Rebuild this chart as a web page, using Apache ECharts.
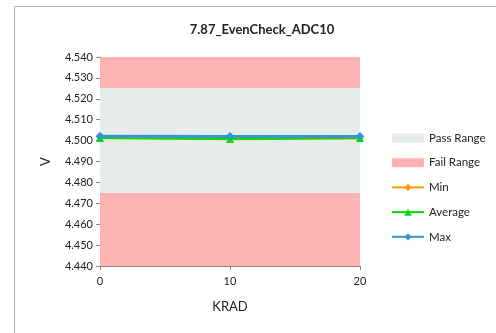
<!DOCTYPE html>
<html><head><meta charset="utf-8">
<script src="https://cdn.jsdelivr.net/npm/echarts@6/dist/echarts.min.js"></script>
<style>html,body{margin:0;padding:0;background:#fff;}#c{width:496px;height:333px;}</style>
</head><body><div id="c"></div>
<script>
const krad = [0, 10, 20];
const minVals = [4.5012, 4.5006, 4.5010];
const avgVals = [4.5013, 4.5008, 4.5012];
const maxVals = [4.5021, 4.5020, 4.5020];
const passLow = 4.475, passHigh = 4.525;
const yMin = 4.44, yMax = 4.54;
const font = 'Lato, "Liberation Sans", sans-serif';
const pts = v => krad.map((k, i) => [k, v[i]]);
const chart = echarts.init(document.getElementById('c'));
chart.setOption({
  animation: false,
  graphic: [{type: 'rect', shape: {x: 14.5, y: 6.5, width: 500, height: 340}, style: {fill: 'none', stroke: '#b4b4b4', lineWidth: 1}, silent: true}],
  title: {text: '7.87_EvenCheck_ADC10', left: 257, top: 18, textAlign: 'center',
    textStyle: {fontFamily: font, fontSize: 13, fontWeight: 'bold', color: '#222'}},
  grid: {left: 100, right: 136, top: 57, bottom: 67},
  legend: {orient: 'vertical', left: 386, top: 127, itemWidth: 32, itemHeight: 9, itemGap: 12.7,
    textStyle: {fontFamily: font, fontSize: 11.5, color: '#222'},
    data: [{name: 'Pass Range', icon: 'rect'}, {name: 'Fail Range', icon: 'rect'}, 'Min', 'Average', 'Max']},
  xAxis: {type: 'value', min: 0, max: 20, interval: 10, name: 'KRAD', nameLocation: 'middle', nameGap: 34,
    nameTextStyle: {fontFamily: font, fontSize: 13, color: '#222'},
    axisLine: {lineStyle: {color: '#888'}}, axisTick: {show: true, length: 4, lineStyle: {color: '#888'}},
    axisLabel: {fontFamily: font, fontSize: 11, color: '#222', margin: 10}, splitLine: {show: false}},
  yAxis: {type: 'value', min: yMin, max: yMax, interval: 0.01, name: 'V', nameLocation: 'middle', nameGap: 48,
    nameTextStyle: {fontFamily: font, fontSize: 13, color: '#222'},
    axisLine: {show: true, lineStyle: {color: '#888'}}, axisTick: {show: true, length: 4, lineStyle: {color: '#888'}},
    axisLabel: {fontFamily: font, fontSize: 11, color: '#222', margin: 7, formatter: v => v.toFixed(3)}, splitLine: {show: false}},
  series: [
    {name: 'Fail Range', type: 'line', data: [], itemStyle: {color: '#ffb3b3'}, lineStyle: {width: 0},
      markArea: {silent: true, itemStyle: {color: '#ffb3b3'},
        data: [[{yAxis: yMin}, {yAxis: passLow}], [{yAxis: passHigh}, {yAxis: yMax}]]}},
    {name: 'Pass Range', type: 'line', data: [], itemStyle: {color: '#e6ebeb'}, lineStyle: {width: 0},
      markArea: {silent: true, itemStyle: {color: '#e6ebeb'}, data: [[{yAxis: passLow}, {yAxis: passHigh}]]}},
    {name: 'Min', type: 'line', data: pts(minVals), symbol: 'diamond', symbolSize: 6,
      itemStyle: {color: '#ff9900'}, lineStyle: {width: 2, color: '#ff9900'}},
    {name: 'Average', type: 'line', data: pts(avgVals), symbol: 'triangle', symbolSize: 8,
      itemStyle: {color: '#00dd00'}, lineStyle: {width: 2, color: '#00dd00'}},
    {name: 'Max', type: 'line', data: pts(maxVals), symbol: 'diamond', symbolSize: 9,
      itemStyle: {color: '#3399cc'}, lineStyle: {width: 3, color: '#3399cc'}}
  ]
});
</script></body></html>
